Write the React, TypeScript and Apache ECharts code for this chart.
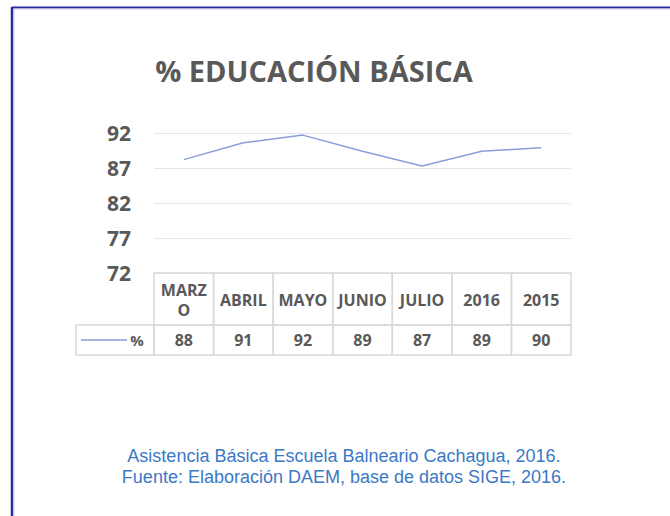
import React, { useEffect, useRef } from "react";
import * as echarts from "echarts";

const categories = ["MARZO", "ABRIL", "MAYO", "JUNIO", "JULIO", "2016", "2015"];
const values = [88.2, 90.6, 91.7, 89.4, 87.3, 89.4, 89.9];
const tableValues = [88, 91, 92, 89, 87, 89, 90];
const yMin = 72;
const yMax = 92;
const yStep = 5;
const seriesName = "%";
const titleText = "% EDUCACIÓN BÁSICA";
const captionLines = [
  "Asistencia Básica Escuela Balneario Cachagua, 2016.",
  "Fuente: Elaboración DAEM, base de datos SIGE, 2016.",
];

const LINE_COLOR = "#8a9dda";
const TEXT_GRAY = "#595959";
const CELL_BORDER = "#d9d9d9";

export default function App() {
  const ref = useRef<HTMLDivElement>(null);
  useEffect(() => {
    if (!ref.current) return;
    const chart = echarts.init(ref.current, null, { renderer: "svg" });
    const headerH = 52;
    const valueH = 30;
    const legendW = 78;
    const option: any = {
      animation: false,
      backgroundColor: "#ffffff",
      grid: { left: 154, right: 99, top: 133, bottom: 243 },
      xAxis: {
        type: "category",
        data: categories,
        boundaryGap: true,
        axisLine: { show: false },
        axisTick: { show: false },
        axisLabel: { show: false },
        splitLine: { show: false },
      },
      yAxis: {
        type: "value",
        min: yMin,
        max: yMax,
        interval: yStep,
        axisLine: { show: false },
        axisTick: { show: false },
        axisLabel: {
          margin: 23,
          color: TEXT_GRAY,
          fontSize: 21,
          fontWeight: "bold",
          fontFamily: "Open Sans",
        },
        splitLine: { lineStyle: { color: "#e6e6e6", width: 1 } },
      },
      series: [
        {
          name: seriesName,
          type: "line",
          data: values,
          showSymbol: false,
          lineStyle: { color: LINE_COLOR, width: 1.5 },
          itemStyle: { color: LINE_COLOR },
        },
        {
          type: "custom",
          clip: false,
          silent: true,
          data: categories.map((c, i) => [i, yMin, tableValues[i]]),
          encode: { x: 0, y: 1 },
          renderItem: (params: any, api: any) => {
            const idx = api.value(0);
            const pt = api.coord([idx, yMin]);
            const w = api.size([1, 0])[0];
            const cx = pt[0];
            const y0 = pt[1];
            const left = cx - w / 2;
            const children: any[] = [
              {
                type: "rect",
                shape: { x: left, y: y0, width: w, height: headerH },
                style: { fill: "none", stroke: CELL_BORDER, lineWidth: 1.5 },
              },
              {
                type: "rect",
                shape: { x: left, y: y0 + headerH, width: w, height: valueH },
                style: { fill: "none", stroke: CELL_BORDER, lineWidth: 1.5 },
              },
              {
                type: "text",
                style: {
                  text: categories[idx],
                  x: cx,
                  y: y0 + headerH / 2 + 1,
                  align: "center",
                  verticalAlign: "middle",
                  width: 52,
                  overflow: "breakAll",
                  lineHeight: 20,
                  font: "bold 16px 'Open Sans'",
                  fill: TEXT_GRAY,
                },
              },
              {
                type: "text",
                style: {
                  text: String(api.value(2)),
                  x: cx,
                  y: y0 + headerH + valueH / 2,
                  align: "center",
                  verticalAlign: "middle",
                  font: "bold 16px 'Open Sans'",
                  fill: TEXT_GRAY,
                },
              },
            ];
            if (idx === 0) {
              const lx = left - legendW;
              const ly = y0 + headerH;
              children.push(
                {
                  type: "rect",
                  shape: { x: lx, y: ly, width: legendW, height: valueH },
                  style: { fill: "none", stroke: CELL_BORDER, lineWidth: 1.5 },
                },
                {
                  type: "line",
                  shape: { x1: lx + 5, y1: ly + valueH / 2, x2: lx + 51, y2: ly + valueH / 2 },
                  style: { stroke: LINE_COLOR, lineWidth: 1.5 },
                },
                {
                  type: "text",
                  style: {
                    text: seriesName,
                    x: lx + 61,
                    y: ly + valueH / 2,
                    align: "center",
                    verticalAlign: "middle",
                    font: "bold 15px 'Open Sans'",
                    fill: TEXT_GRAY,
                  },
                }
              );
            }
            return { type: "group", children };
          },
        },
      ],
      graphic: [
        {
          type: "line",
          shape: { x1: 12, y1: 7.5, x2: 670, y2: 7.5 },
          style: { stroke: "#2a2a9c", lineWidth: 2 },
        },
        {
          type: "line",
          shape: { x1: 12, y1: 7, x2: 12, y2: 516 },
          style: { stroke: "#2a2a9c", lineWidth: 2.5 },
        },
        {
          type: "line",
          shape: { x1: 14, y1: 9, x2: 670, y2: 9 },
          style: { stroke: "#c8c8ec", lineWidth: 1 },
        },
        {
          type: "line",
          shape: { x1: 14, y1: 9, x2: 14, y2: 516 },
          style: { stroke: "#c8c8ec", lineWidth: 1 },
        },
        {
          type: "text",
          style: {
            text: titleText,
            x: 314,
            y: 70,
            align: "center",
            verticalAlign: "middle",
            font: "bold 29px 'Open Sans'",
            fill: TEXT_GRAY,
          },
        },
        {
          type: "text",
          style: {
            text: captionLines.join("\n"),
            x: 344,
            y: 466,
            align: "center",
            verticalAlign: "middle",
            lineHeight: 21,
            font: "18px 'Liberation Sans', Arial",
            fill: "#3b78c6",
          },
        },
      ],
    };
    chart.setOption(option);
    return () => chart.dispose();
  }, []);
  return (
    <div
      ref={ref}
      style={{ position: "fixed", left: 0, top: 0, width: 670, height: 516 }}
    />
  );
}
